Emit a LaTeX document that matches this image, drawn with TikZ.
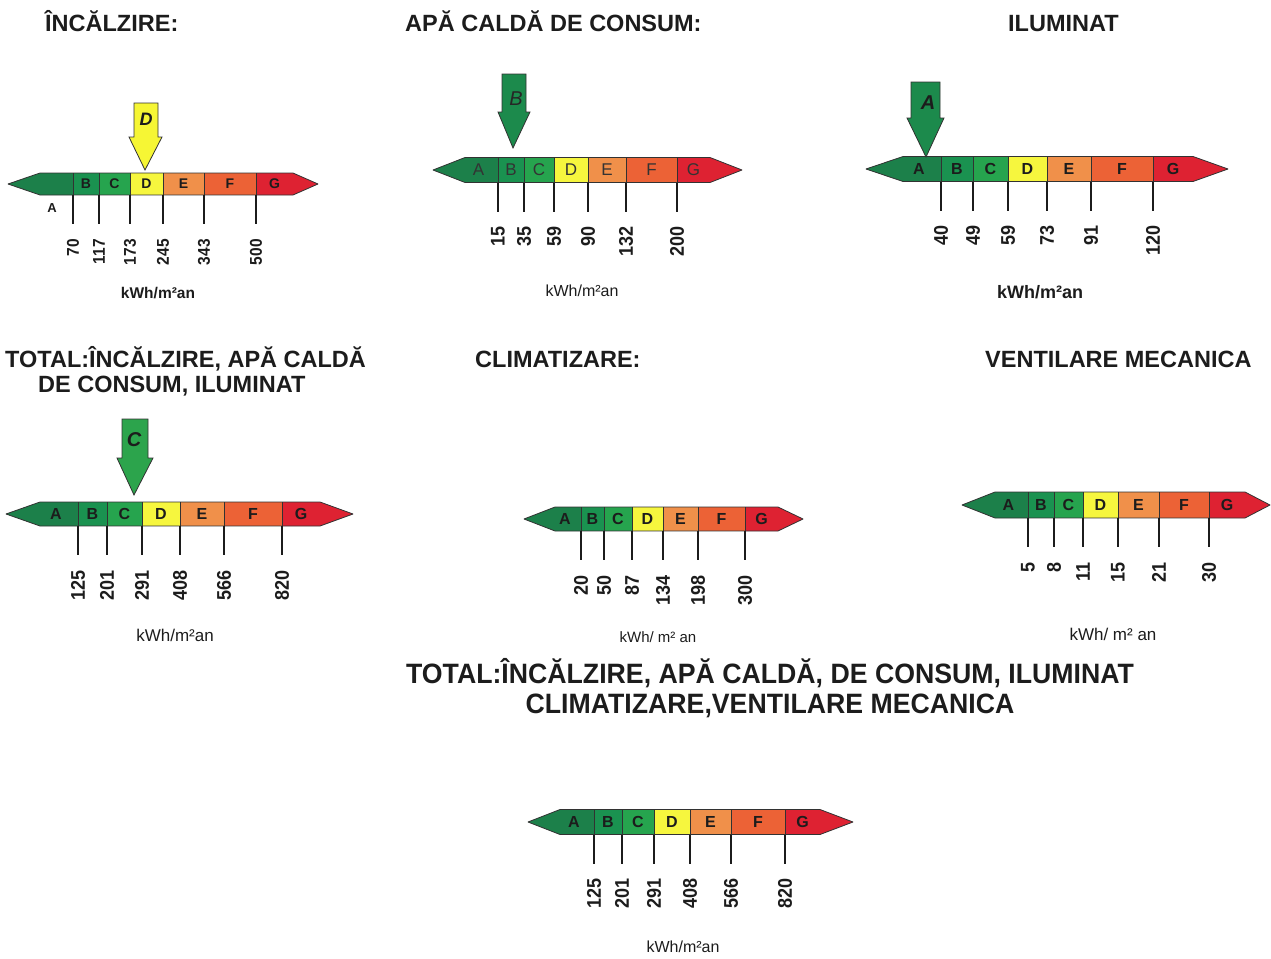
\documentclass[tikz,border=0pt]{standalone}
\usepackage{fontspec}
\setmainfont{Liberation Sans}
\definecolor{cA}{RGB}{28,128,74}
\definecolor{cB}{RGB}{26,146,80}
\definecolor{cC}{RGB}{38,164,78}
\definecolor{cD}{RGB}{246,246,62}
\definecolor{cE}{RGB}{240,144,74}
\definecolor{cF}{RGB}{236,98,54}
\definecolor{cG}{RGB}{222,34,50}
\definecolor{arrG}{RGB}{28,138,76}
\definecolor{arrC}{RGB}{44,164,76}
\definecolor{arrY}{RGB}{246,246,52}
\definecolor{ink}{RGB}{28,28,28}
\definecolor{lineg}{RGB}{50,50,50}

\newcommand\drawbar[9]{\def\bYC{#1}\def\bHH{#2}\def\bTL{#3}\def\bXS{#4}\def\bA{#5}\def\bB{#6}\def\bC{#7}\def\bD{#8}\def\bE{#9}\drawbarB}
\newcommand\drawbarB[3]{\def\bF{#1}\def\bXE{#2}\def\bTR{#3}%
  \pgfmathsetmacro\bYT{\bYC-\bHH}\pgfmathsetmacro\bYB{\bYC+\bHH}%
  \pgfmathsetmacro\bYK{\bYB+29}\pgfmathsetmacro\bYN{\bYK+15}%
  \fill[cA] (\bTL,\bYC) -- (\bXS,\bYT) -- (\bA,\bYT) -- (\bA,\bYB) -- (\bXS,\bYB) -- cycle;
  \fill[cB] (\bA,\bYT) rectangle (\bB,\bYB);
  \fill[cC] (\bB,\bYT) rectangle (\bC,\bYB);
  \fill[cD] (\bC,\bYT) rectangle (\bD,\bYB);
  \fill[cE] (\bD,\bYT) rectangle (\bE,\bYB);
  \fill[cF] (\bE,\bYT) rectangle (\bF,\bYB);
  \fill[cG] (\bF,\bYT) -- (\bXE,\bYT) -- (\bTR,\bYC) -- (\bXE,\bYB) -- (\bF,\bYB) -- cycle;
  \draw[barline] (\bTL,\bYC) -- (\bXS,\bYT) -- (\bXE,\bYT) -- (\bTR,\bYC) -- (\bXE,\bYB) -- (\bXS,\bYB) -- cycle;
  \foreach \b in {\bA,\bB,\bC,\bD,\bE,\bF}{%
    \draw[barline] (\b,\bYT) -- (\b,\bYB);
    \draw[tick] (\b,\bYB) -- (\b,\bYK);}%
}
% letters inside the bar: #1 style, #2 text of A
\newcommand\barletters[2]{%
  \node[barlet,#1] (\pfx la) at ({(\bXS+\bA)/2-3},\bYC) {#2};
  \node[barlet,#1] (\pfx lb) at ({(\bA+\bB)/2},\bYC) {B};
  \node[barlet,#1] (\pfx lc) at ({(\bB+\bC)/2},\bYC) {C};
  \node[barlet,#1] (\pfx ld) at ({(\bC+\bD)/2},\bYC) {D};
  \node[barlet,#1] (\pfx le) at ({(\bD+\bE)/2},\bYC) {E};
  \node[barlet,#1] (\pfx lf) at ({(\bE+\bF)/2},\bYC) {F};
  \node[barlet,#1] (\pfx lg) at ({(\bF+\bXE)/2},\bYC) {G};
}
\newcommand\nums[7][]{%
  \node[num,#1] (\pfx n1) at (\bA,\bYN) {\scalebox{1}[1.1]{#2}};
  \node[num,#1] (\pfx n2) at (\bB,\bYN) {\scalebox{1}[1.1]{#3}};
  \node[num,#1] (\pfx n3) at (\bC,\bYN) {\scalebox{1}[1.1]{#4}};
  \node[num,#1] (\pfx n4) at (\bD,\bYN) {\scalebox{1}[1.1]{#5}};
  \node[num,#1] (\pfx n5) at (\bE,\bYN) {\scalebox{1}[1.1]{#6}};
  \node[num,#1] (\pfx n6) at (\bF,\bYN) {\scalebox{1}[1.1]{#7}};
}

\tikzset{
  barline/.style={draw=lineg,line width=0.8pt,line join=round},
  tick/.style={draw=ink,line width=1.7pt},
  barlet/.style={text=ink,inner sep=0pt,font=\fontsize{16}{18}\selectfont\bfseries},
  barletsmall/.style={font=\fontsize{14}{16}\selectfont\bfseries},
  barletlight/.style={text=black!80,font=\fontsize{17}{19}\selectfont},
  num/.style={text=ink,inner sep=0pt,rotate=90,anchor=east,font=\fontsize{18}{20}\selectfont\bfseries},
  unitb/.style={text=ink,inner sep=0pt,font=\fontsize{17}{20}\selectfont\bfseries},
  unitr/.style={text=ink,inner sep=0pt,font=\fontsize{17}{20}\selectfont},
  title/.style={text=ink,inner sep=0pt,anchor=base west,font=\fontsize{23.5}{26}\selectfont\bfseries},
  bigtitle/.style={text=ink,inner sep=0pt,anchor=base,font=\fontsize{28}{30}\selectfont\bfseries},
  ptr/.style={draw=lineg,line width=0.8pt,line join=miter},
  ptrlet/.style={text=ink,inner sep=0pt,font=\fontsize{20}{22}\selectfont\bfseries\itshape},
}

\begin{document}
\begin{tikzpicture}[x=1pt,y=-1pt]
\useasboundingbox (0,0) rectangle (1271,958);

% ---------- titles ----------
\node[title] (t1) at (45,32) {ÎNCĂLZIRE:};
\node[title] (t2) at (405,32) {APĂ CALDĂ DE CONSUM:};
\node[title] (t3) at (1008,32) {ILUMINAT};
\node[title] (t4a) at (5,367) {TOTAL:ÎNCĂLZIRE, APĂ CALDĂ};
\node[title] (t4b) at (38,392) {DE CONSUM, ILUMINAT};
\node[title] (t5) at (475,367) {CLIMATIZARE:};
\node[title] (t6) at (985,367) {VENTILARE MECANICA};
\node[bigtitle] (t7a) at (770,683) {\scalebox{0.953}[1]{TOTAL:ÎNCĂLZIRE, APĂ CALDĂ, DE CONSUM, ILUMINAT}};
\node[bigtitle] (t7b) at (770,713) {\scalebox{0.953}[1]{CLIMATIZARE,VENTILARE MECANICA}};

% ---------- bar 1: incalzire ----------
\def\pfx{b1}
\drawbar{184}{11}{8}{40}{73}{99}{130}{163}{204}{256}{293}{318}
\barletters{barletsmall}{}
\node[barlet,font=\fontsize{13}{15}\selectfont\bfseries] (b1lA) at (52,208) {A};
\nums[font=\fontsize{15.5}{18}\selectfont\bfseries]{70}{117}{173}{245}{343}{500}
\node[unitb,font=\fontsize{15.5}{18}\selectfont\bfseries] (u1) at (158,293) {kWh/m²an};
\draw[ptr,fill=arrY] (134,103) -- (158,103) -- (158,137) -- (162,137) -- (145,170) -- (129,137) -- (134,137) -- cycle;
\node[ptrlet,font=\fontsize{18}{20}\selectfont\bfseries\itshape] (pD) at (146,119) {D};

% ---------- bar 2: apa calda ----------
\def\pfx{b2}
\drawbar{170}{12.5}{433}{465}{498}{524}{554}{588}{626}{677}{710}{742}
\barletters{barletlight}{A}
\nums{15}{35}{59}{90}{132}{200}
\node[unitr,font=\fontsize{16}{18}\selectfont] (u2) at (582,291) {kWh/m²an};
\draw[ptr,fill=arrG] (502,74) -- (526,74) -- (526,112) -- (530,112) -- (513,148) -- (498,112) -- (502,112) -- cycle;
\node[ptrlet,font=\fontsize{20}{22}\selectfont\itshape,text=black!85] (pB) at (516,99) {B};

% ---------- bar 3: iluminat ----------
\def\pfx{b3}
\drawbar{169}{12.5}{866}{903}{941}{973}{1008}{1047}{1091}{1153}{1193}{1228}
\barletters{}{A}
\nums{40}{49}{59}{73}{91}{120}
\node[unitb,font=\fontsize{18}{20}\selectfont\bfseries] (u3) at (1040,292) {kWh/m²an};
\draw[ptr,fill=arrG] (911,82) -- (940,82) -- (940,118) -- (944,118) -- (926,157) -- (907,118) -- (911,118) -- cycle;
\node[ptrlet] (pA) at (928,103) {A};

% ---------- bar 4: total ----------
\def\pfx{b4}
\drawbar{514}{12}{6}{40}{78}{107}{142}{180}{224}{282}{320}{353}
\barletters{}{A}
\nums{125}{201}{291}{408}{566}{820}
\node[unitr] (u4) at (175,635) {kWh/m²an};
\draw[ptr,fill=arrC] (122,419) -- (148,419) -- (148,458) -- (153,458) -- (134,495) -- (117,458) -- (122,458) -- cycle;
\node[ptrlet] (pC) at (134,440) {C};

% ---------- bar 5: climatizare ----------
\def\pfx{b5}
\drawbar{519}{12}{524}{555}{581}{604}{632}{663}{698}{745}{778}{803}
\barletters{}{A}
\nums{20}{50}{87}{134}{198}{300}
\node[unitr,font=\fontsize{15}{17}\selectfont] (u5) at (658,637) {kWh/ m² an};

% ---------- bar 6: ventilare ----------
\def\pfx{b6}
\drawbar{505}{13}{962}{995}{1028}{1054}{1083}{1118}{1159}{1209}{1245}{1270}
\barletters{}{A}
\nums{5}{8}{11}{15}{21}{30}
\node[unitr] (u6) at (1113,634) {kWh/ m² an};

% ---------- bar 7: total general ----------
\def\pfx{b7}
\drawbar{822}{12.5}{528}{560}{594}{622}{654}{690}{731}{785}{820}{853}
\barletters{}{A}
\nums{125}{201}{291}{408}{566}{820}
\node[unitr,font=\fontsize{16}{18}\selectfont] (u7) at (683,947) {kWh/m²an};

\end{tikzpicture}
\end{document}
